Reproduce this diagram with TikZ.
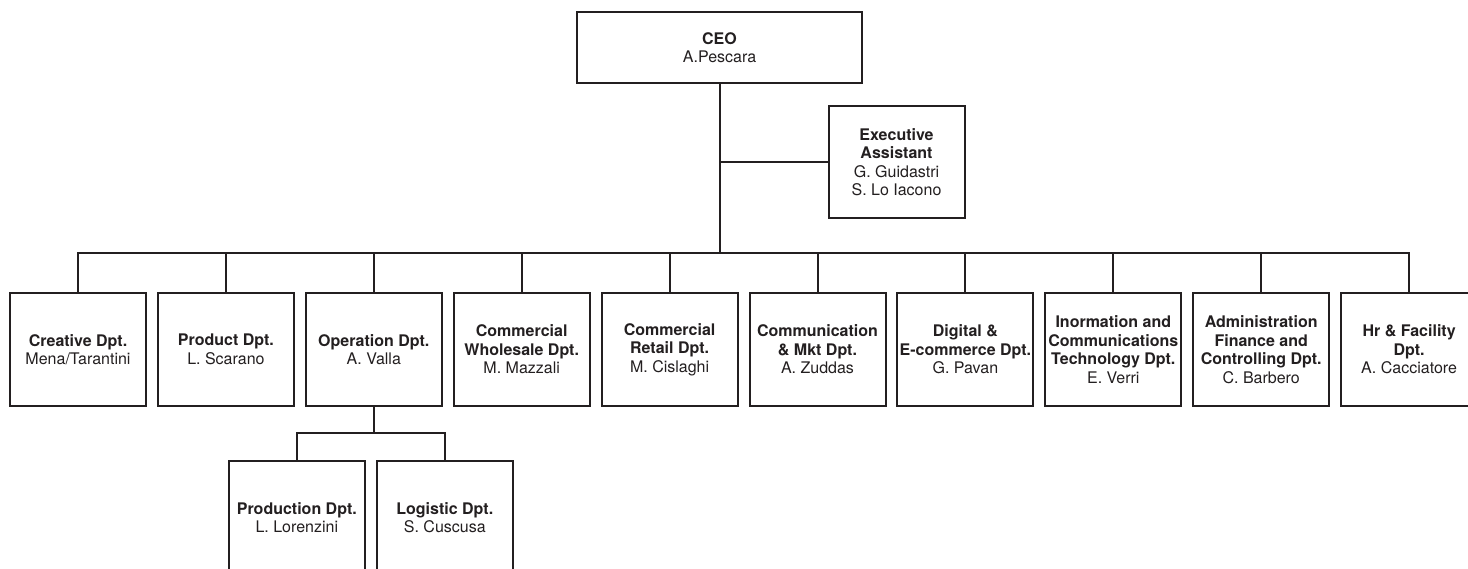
\documentclass[tikz,border=0pt]{standalone}
\usepackage{fontspec}
\setmainfont{TeX Gyre Heros}
\usetikzlibrary{positioning}
\definecolor{ink}{HTML}{231F20}
\tikzset{%
  block/.style    = {draw = ink, text = ink, line width = 2pt, rectangle,
    align = center, minimum width = 136pt, minimum height = 113pt,
    inner sep = 2pt, font = \fontsize{16}{18.5}\selectfont},
  topblock/.style = {block, minimum width = 285pt, minimum height = 71pt}, % CEO
  wire/.style     = {draw = ink, line width = 2pt} % Connector
}
\newcommand{\dpt}[2]{#1\\#2}

\begin{document}
\begin{tikzpicture}[x = 1pt, y = -1pt]
\useasboundingbox (0,0) rectangle (1468,568);
\clip (0,0) rectangle (1468,568);
%top blocks
\draw
	(719.5,47.5) node [topblock] (ceo) {\dpt{\textbf{CEO}}{A.Pescara}}
	(896.5,162) node [block, minimum height = 112pt] (exec) {\textbf{Executive}\\\textbf{Assistant}\\G. Guidastri\\S. Lo Iacono};
%department blocks
\draw
	(78,349.5) node [block] (creative) {\dpt{\textbf{Creative Dpt.}}{Mena/Tarantini}}
	(225.9,349.5) node [block] (product) {\dpt{\textbf{Product Dpt.}}{L. Scarano}}
	(373.8,349.5) node [block] (operation) {\dpt{\textbf{Operation Dpt.}}{A. Valla}}
	(521.7,349.5) node [block] (wholesale) {\textbf{Commercial}\\\textbf{Wholesale Dpt.}\\M. Mazzali}
	(669.6,349.5) node [block] (retail) {\textbf{Commercial}\\\textbf{Retail Dpt.}\\M. Cislaghi}
	(817.5,349.5) node [block] (mkt) {\textbf{Communication}\\\textbf{\& Mkt Dpt.}\\A. Zuddas}
	(965.4,349.5) node [block] (digital) {\textbf{Digital \&}\\\textbf{E-commerce Dpt.}\\G. Pavan}
	(1113.3,349.5) node [block] (ict) {\textbf{Inormation and}\\\textbf{Communications}\\\textbf{Technology Dpt.}\\E. Verri}
	(1261.2,349.5) node [block] (admin) {\textbf{Administration}\\\textbf{Finance and}\\\textbf{Controlling Dpt.}\\C. Barbero}
	(1409.1,349.5) node [block] (hr) {\textbf{Hr \& Facility}\\\textbf{Dpt.}\\A. Cacciatore};
%operation sub blocks
\draw
	(296.8,517.5) node [block] (production) {\dpt{\textbf{Production Dpt.}}{L. Lorenzini}}
	(444.8,517.5) node [block] (logistic) {\dpt{\textbf{Logistic Dpt.}}{S. Cuscusa}};
%bus points
\coordinate (bus) at (719.5,253);
\coordinate (subbus) at (373.8,433);
%top lines
\draw[wire] (ceo.south) -- (bus);
\draw[wire] (exec.west) -- (exec.west -| ceo.south);
%department lines
\draw[wire] (creative.north) |- (bus) -| (hr.north);
\draw[wire] (product.north) -- (product.north |- bus);
\draw[wire] (operation.north) -- (operation.north |- bus);
\draw[wire] (wholesale.north) -- (wholesale.north |- bus);
\draw[wire] (retail.north) -- (retail.north |- bus);
\draw[wire] (mkt.north) -- (mkt.north |- bus);
\draw[wire] (digital.north) -- (digital.north |- bus);
\draw[wire] (ict.north) -- (ict.north |- bus);
\draw[wire] (admin.north) -- (admin.north |- bus);
%operation sub lines
\draw[wire] (operation.south) -- (subbus);
\draw[wire] (production.north) |- (subbus) -| (logistic.north);
\end{tikzpicture}
\end{document}
